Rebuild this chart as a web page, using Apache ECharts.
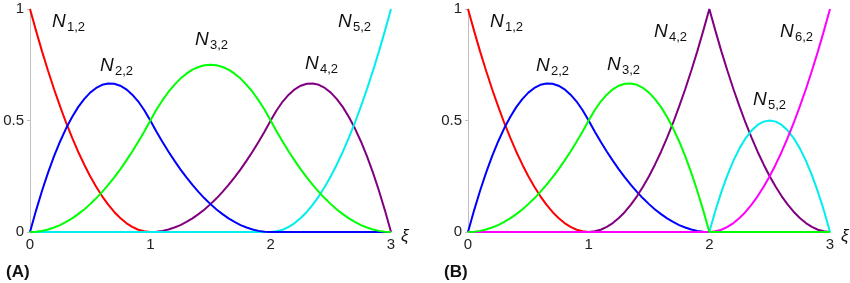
<!DOCTYPE html>
<html><head><meta charset="utf-8">
<script src="https://cdn.jsdelivr.net/npm/echarts@6/dist/echarts.min.js"></script>
<style>html,body{margin:0;padding:0;background:#fff}#c{width:850px;height:283px}</style>
</head><body><div id="c"></div>
<script>
// xi sample positions (step 0.05)
const xs = [0,0.05,0.1,0.15,0.2,0.25,0.3,0.35,0.4,0.45,0.5,0.55,0.6,0.65,0.7,0.75,0.8,0.85,0.9,0.95,
  1,1.05,1.1,1.15,1.2,1.25,1.3,1.35,1.4,1.45,1.5,1.55,1.6,1.65,1.7,1.75,1.8,1.85,1.9,1.95,
  2,2.05,2.1,2.15,2.2,2.25,2.3,2.35,2.4,2.45,2.5,2.55,2.6,2.65,2.7,2.75,2.8,2.85,2.9,2.95,3];
const xTicks = ['0','1','2','3'];
const yTicks = ['0','0.5','1'];
// Panel A basis values
const A_N1 = [1,0.903,0.81,0.723,0.64,0.563,0.49,0.423,0.36,0.303,0.25,0.203,0.16,0.123,0.09,0.063,0.04,0.023,0.01,0.003,
  0,0,0,0,0,0,0,0,0,0,0,0,0,0,0,0,0,0,0,0,
  0,0,0,0,0,0,0,0,0,0,0,0,0,0,0,0,0,0,0,0,0];
const A_N2 = [0,0.096,0.185,0.266,0.34,0.406,0.465,0.516,0.56,0.596,0.625,0.646,0.66,0.666,0.665,0.656,0.64,0.616,0.585,0.546,
  0.5,0.451,0.405,0.361,0.32,0.281,0.245,0.211,0.18,0.151,0.125,0.101,0.08,0.061,0.045,0.031,0.02,0.011,0.005,0.001,
  0,0,0,0,0,0,0,0,0,0,0,0,0,0,0,0,0,0,0,0,0];
const A_N3 = [0,0.001,0.005,0.011,0.02,0.031,0.045,0.061,0.08,0.101,0.125,0.151,0.18,0.211,0.245,0.281,0.32,0.361,0.405,0.451,
  0.5,0.548,0.59,0.628,0.66,0.688,0.71,0.728,0.74,0.748,0.75,0.748,0.74,0.728,0.71,0.688,0.66,0.628,0.59,0.548,
  0.5,0.451,0.405,0.361,0.32,0.281,0.245,0.211,0.18,0.151,0.125,0.101,0.08,0.061,0.045,0.031,0.02,0.011,0.005,0.001,0];
const A_N4 = [0,0,0,0,0,0,0,0,0,0,0,0,0,0,0,0,0,0,0,0,
  0,0.001,0.005,0.011,0.02,0.031,0.045,0.061,0.08,0.101,0.125,0.151,0.18,0.211,0.245,0.281,0.32,0.361,0.405,0.451,
  0.5,0.546,0.585,0.616,0.64,0.656,0.665,0.666,0.66,0.646,0.625,0.596,0.56,0.516,0.465,0.406,0.34,0.266,0.185,0.096,0];
const A_N5 = [0,0,0,0,0,0,0,0,0,0,0,0,0,0,0,0,0,0,0,0,
  0,0,0,0,0,0,0,0,0,0,0,0,0,0,0,0,0,0,0,0,
  0,0.003,0.01,0.023,0.04,0.063,0.09,0.123,0.16,0.203,0.25,0.303,0.36,0.423,0.49,0.563,0.64,0.723,0.81,0.903,1];
// Panel B basis values
const B_N1 = [1,0.903,0.81,0.723,0.64,0.563,0.49,0.423,0.36,0.303,0.25,0.203,0.16,0.123,0.09,0.063,0.04,0.023,0.01,0.003,
  0,0,0,0,0,0,0,0,0,0,0,0,0,0,0,0,0,0,0,0,
  0,0,0,0,0,0,0,0,0,0,0,0,0,0,0,0,0,0,0,0,0];
const B_N2 = [0,0.096,0.185,0.266,0.34,0.406,0.465,0.516,0.56,0.596,0.625,0.646,0.66,0.666,0.665,0.656,0.64,0.616,0.585,0.546,
  0.5,0.451,0.405,0.361,0.32,0.281,0.245,0.211,0.18,0.151,0.125,0.101,0.08,0.061,0.045,0.031,0.02,0.011,0.005,0.001,
  0,0,0,0,0,0,0,0,0,0,0,0,0,0,0,0,0,0,0,0,0];
const B_N3 = [0,0.001,0.005,0.011,0.02,0.031,0.045,0.061,0.08,0.101,0.125,0.151,0.18,0.211,0.245,0.281,0.32,0.361,0.405,0.451,
  0.5,0.546,0.585,0.616,0.64,0.656,0.665,0.666,0.66,0.646,0.625,0.596,0.56,0.516,0.465,0.406,0.34,0.266,0.185,0.096,
  0,0,0,0,0,0,0,0,0,0,0,0,0,0,0,0,0,0,0,0,0];
const B_N4 = [0,0,0,0,0,0,0,0,0,0,0,0,0,0,0,0,0,0,0,0,
  0,0.003,0.01,0.023,0.04,0.063,0.09,0.123,0.16,0.203,0.25,0.303,0.36,0.423,0.49,0.563,0.64,0.723,0.81,0.903,
  1,0.903,0.81,0.723,0.64,0.563,0.49,0.423,0.36,0.303,0.25,0.203,0.16,0.123,0.09,0.063,0.04,0.023,0.01,0.003,0];
const B_N5 = [0,0,0,0,0,0,0,0,0,0,0,0,0,0,0,0,0,0,0,0,
  0,0,0,0,0,0,0,0,0,0,0,0,0,0,0,0,0,0,0,0,
  0,0.095,0.18,0.255,0.32,0.375,0.42,0.455,0.48,0.495,0.5,0.495,0.48,0.455,0.42,0.375,0.32,0.255,0.18,0.095,0];
const B_N6 = [0,0,0,0,0,0,0,0,0,0,0,0,0,0,0,0,0,0,0,0,
  0,0,0,0,0,0,0,0,0,0,0,0,0,0,0,0,0,0,0,0,
  0,0.003,0.01,0.023,0.04,0.063,0.09,0.123,0.16,0.203,0.25,0.303,0.36,0.423,0.49,0.563,0.64,0.723,0.81,0.903,1];

const C = {red:'#ff0000', blue:'#0000ff', green:'#00ff00', purple:'#800080', cyan:'#00eeee', magenta:'#ff00ff'};
const FONT = 'Liberation Sans, Arial, sans-serif';

function pairs(v){ return xs.map((x,i)=>[x, v[i]]); }
function ser(idx, v, color){
  return {type:'line', xAxisIndex:idx, yAxisIndex:idx, data:pairs(v), showSymbol:false, symbol:'none',
    clip:false, lineStyle:{color:color, width:2}, itemStyle:{color:color}, z:2};
}
function xAx(idx){
  return {type:'value', gridIndex:idx, min:0, max:3, interval:1,
    axisLine:{show:true, lineStyle:{color:'#c0c0c0', width:1}}, axisTick:{show:false}, splitLine:{show:false},
    axisLabel:{margin:5, fontSize:15, color:'#222', fontFamily:FONT, formatter:(v)=>xTicks[Math.round(v)]}};
}
function yAx(idx){
  return {type:'value', gridIndex:idx, min:0, max:1, interval:0.5,
    axisLine:{show:true, lineStyle:{color:'#c0c0c0', width:1}}, axisTick:{show:true, length:3, lineStyle:{color:'#c0c0c0'}}, splitLine:{show:false},
    axisLabel:{margin:6, fontSize:15, color:'#222', fontFamily:FONT, formatter:(v)=>yTicks[Math.round(v*2)]}};
}
function lbl(x, yc, sub){
  return {type:'group', children:[
    {type:'text', x:x, y:yc, style:{text:'N', font:'italic 19px '+FONT, fill:'#111', textVerticalAlign:'middle'}},
    {type:'text', x:x+15, y:yc+5, style:{text:sub, font:'13px '+FONT, fill:'#111', textVerticalAlign:'middle'}}
  ]};
}
function txt(x, yc, s, font){
  return {type:'text', x:x, y:yc, style:{text:s, font:font, fill:'#111', textVerticalAlign:'middle'}};
}

const chart = echarts.init(document.getElementById('c'), null, {renderer:'canvas'});
chart.setOption({
  animation:false,
  backgroundColor:'#fff',
  grid:[{left:30, top:9, width:361, height:223}, {left:468, top:9, width:362, height:223}],
  xAxis:[xAx(0), xAx(1)],
  yAxis:[yAx(0), yAx(1)],
  series:[
    ser(0, A_N1, C.red), ser(0, A_N4, C.purple), ser(0, A_N5, C.cyan), ser(0, A_N2, C.blue), ser(0, A_N3, C.green),
    ser(1, B_N1, C.red), ser(1, B_N2, C.blue), ser(1, B_N4, C.purple), ser(1, B_N5, C.cyan), ser(1, B_N6, C.magenta), ser(1, B_N3, C.green)
  ],
  graphic:[
    lbl(52,22,'1,2'), lbl(100,66,'2,2'), lbl(195,40,'3,2'), lbl(305,64,'4,2'), lbl(338,22,'5,2'),
    lbl(490,22,'1,2'), lbl(536,66,'2,2'), lbl(607,65,'3,2'), lbl(654,32,'4,2'), lbl(780,32,'6,2'), lbl(753,100,'5,2'),
    txt(401,236,'ξ','italic 17px '+FONT), txt(841,236,'ξ','italic 17px '+FONT),
    txt(6,272,'(A)','bold 17px '+FONT), txt(444,272,'(B)','bold 17px '+FONT)
  ]
});
</script></body></html>
